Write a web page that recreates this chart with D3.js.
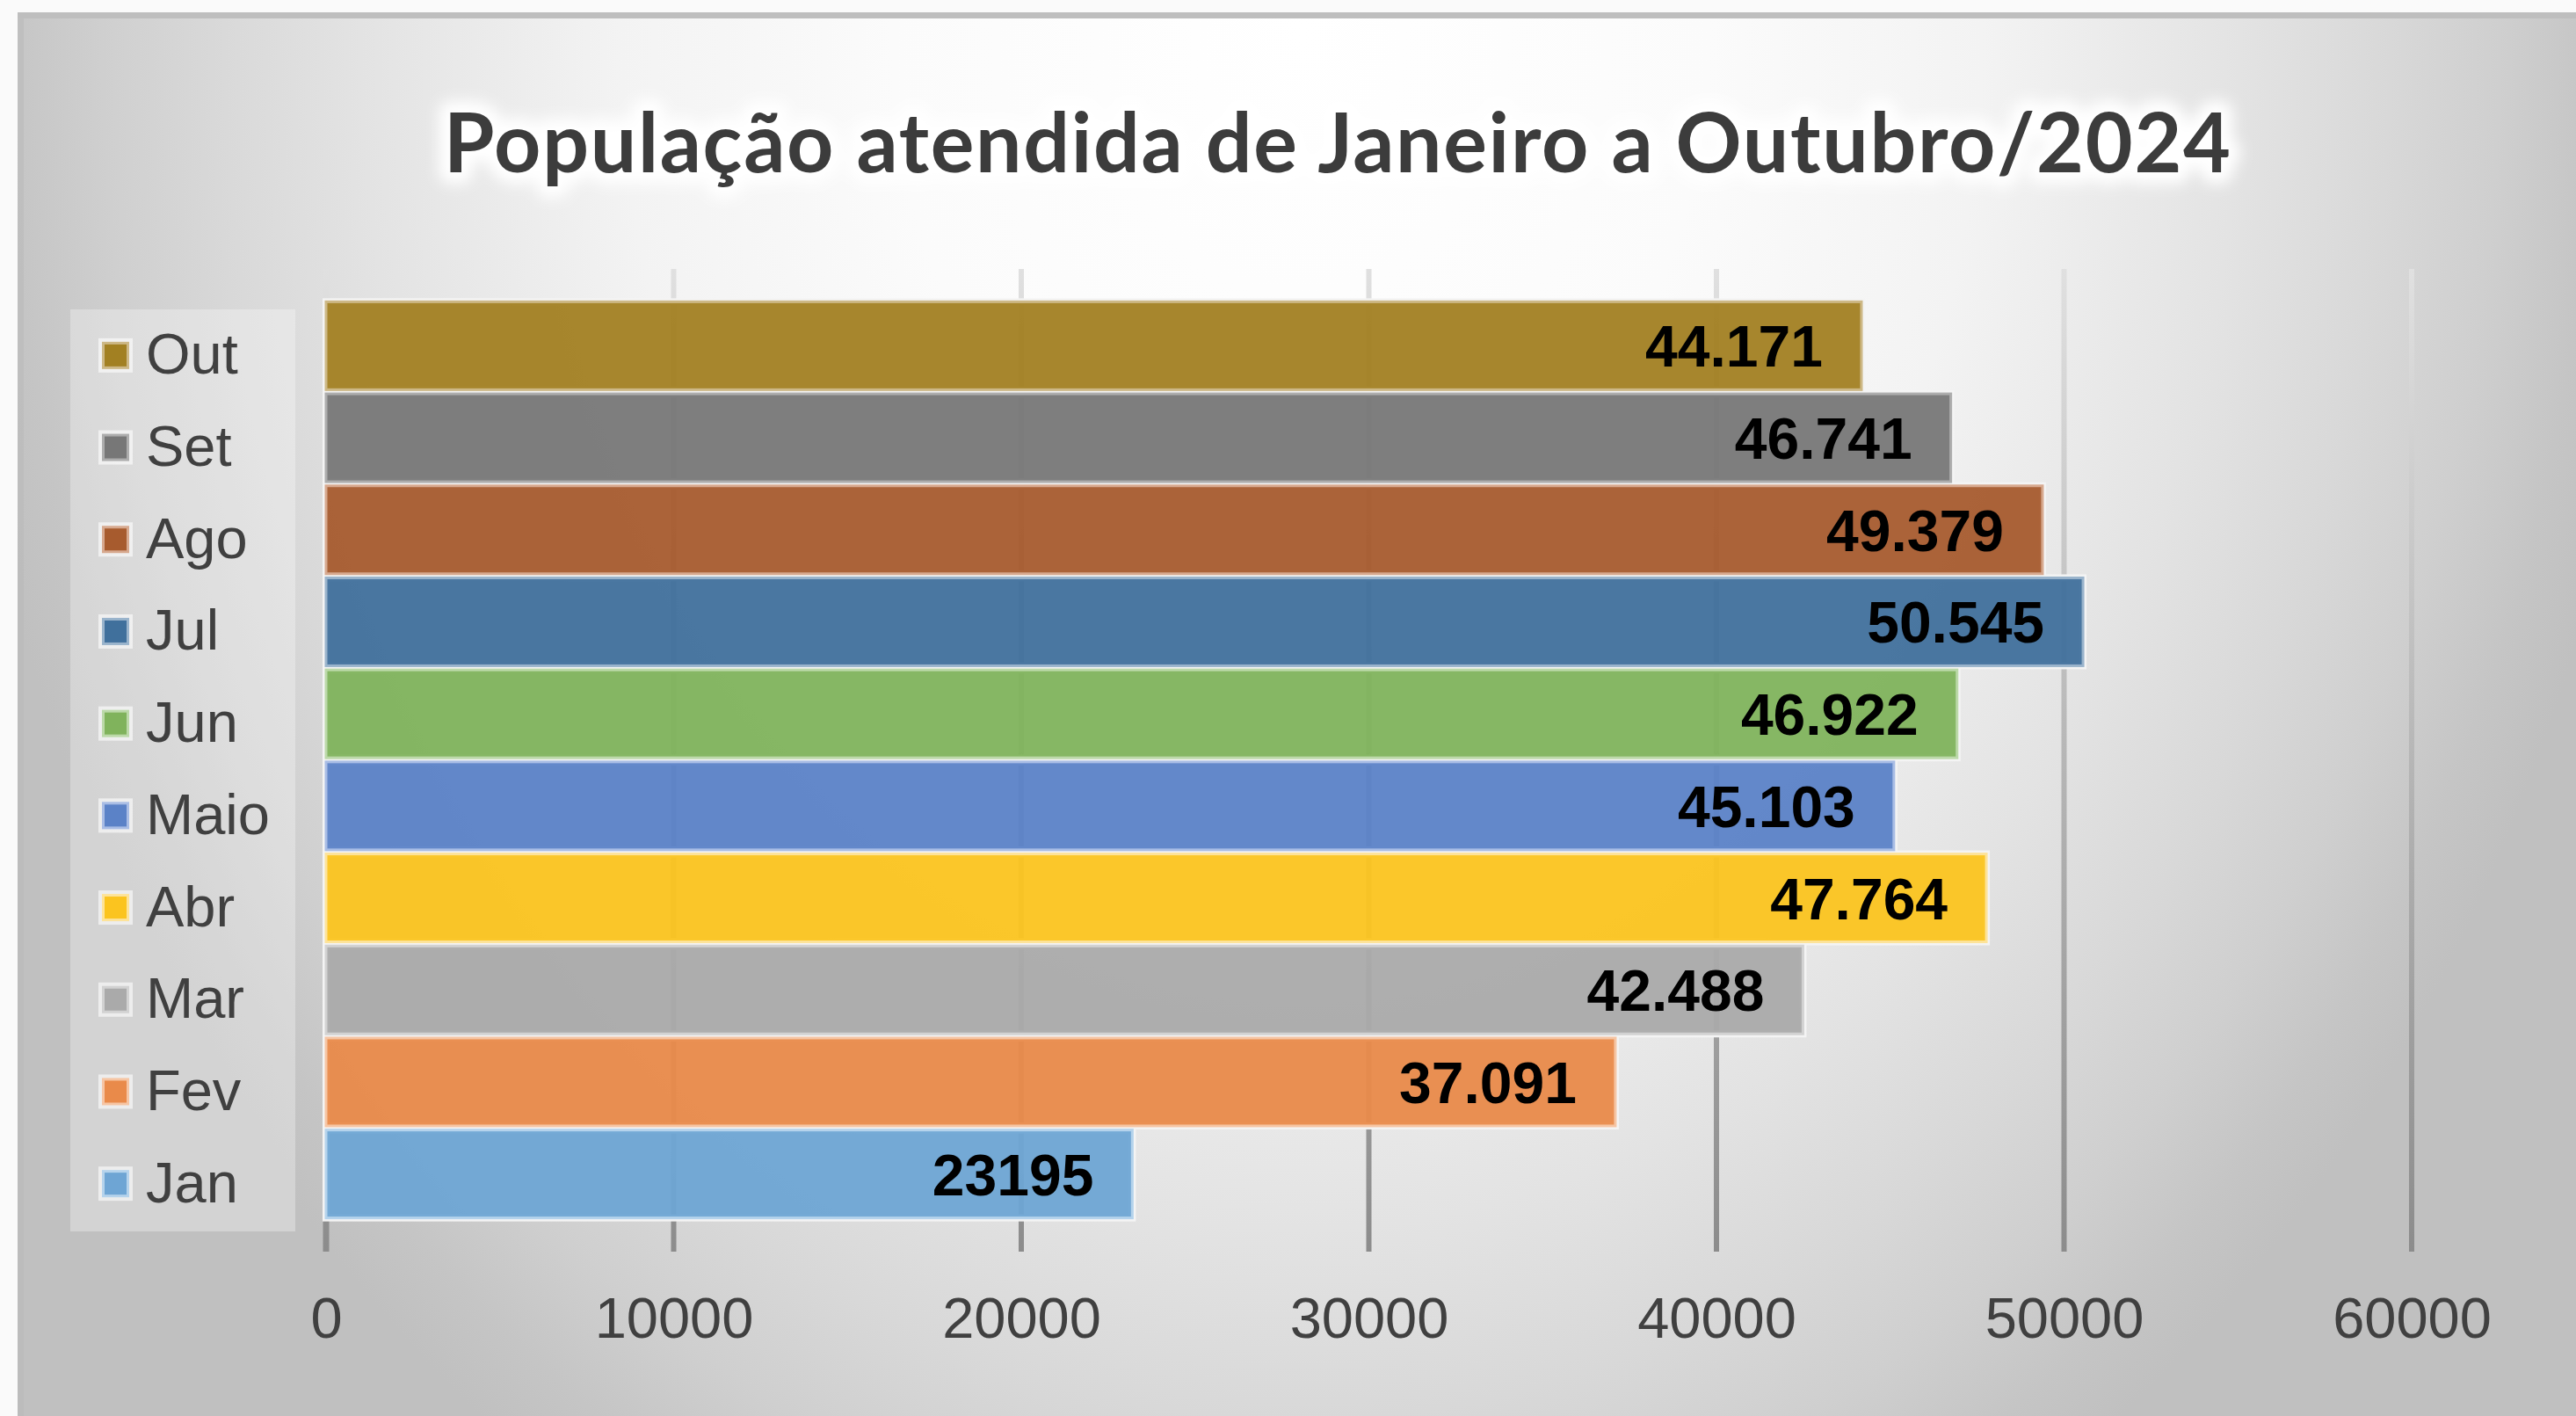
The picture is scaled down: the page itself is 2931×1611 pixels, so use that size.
<!DOCTYPE html>
<html>
<head>
<meta charset="utf-8">
<script src="https://d3js.org/d3.v7.min.js"></script>
<style>
body { margin: 0; background: #fafafa; overflow: hidden; }
svg { display: block; }
.tick text { font-family: "Liberation Sans", Arial, sans-serif; font-size: 65px; fill: #404040; }
</style>
</head>
<body>
<svg width="2931" height="1611"></svg>
<script>
// months, top to bottom as in the chart
const months = ['Out', 'Set', 'Ago', 'Jul', 'Jun', 'Maio', 'Abr', 'Mar', 'Fev', 'Jan'];
const values = [44171, 46741, 49379, 50545, 46922, 45103, 47764, 42488, 37091, 23195];
const valueLabels = ['44.171', '46.741', '49.379', '50.545', '46.922', '45.103', '47.764', '42.488', '37.091', '23195'];
const xTicks = [0, 10000, 20000, 30000, 40000, 50000, 60000];
const fills = ['#a28022', '#777777', '#a75b2e', '#40709c', '#80b35c', '#5b82c7', '#fbc41f', '#aaaaaa', '#e98a4a', '#6ea5d4'];
const tints = ['#cdb886', '#adadad', '#d7a98f', '#9ab4cc', '#bcd9a9', '#a9bde5', '#fde39a', '#d2d2d2', '#f6c5a4', '#b5d3ec'];
const title = 'População atendida de Janeiro a Outubro/2024';

const svg = d3.select('svg');
const defs = svg.append('defs');

// chart background, radial like the Excel preset
const bg = defs.append('radialGradient')
  .attr('id', 'bg')
  .attr('gradientUnits', 'userSpaceOnUse')
  .attr('cx', 1480).attr('cy', 40).attr('r', 1550)
  .attr('gradientTransform', 'translate(1480,40) scale(1,1.27) translate(-1480,-40)');
[[0, '#ffffff'], [0.3, '#fbfbfb'], [0.5, '#f3f3f3'], [0.69, '#e3e3e3'], [0.8, '#d8d8d8'], [0.88, '#cfcfcf'], [0.95, '#c5c5c5'], [1, '#c0c0c0']]
  .forEach(([o, c]) => bg.append('stop').attr('offset', o).attr('stop-color', c));

const grid = defs.append('linearGradient')
  .attr('id', 'grid')
  .attr('gradientUnits', 'userSpaceOnUse')
  .attr('x1', 0).attr('x2', 0).attr('y1', 306).attr('y2', 1424);
grid.append('stop').attr('offset', 0).attr('stop-color', '#e0e0e0');
grid.append('stop').attr('offset', 1).attr('stop-color', '#8c8c8c');

const glow = defs.append('filter').attr('id', 'glow')
  .attr('x', '-10%').attr('y', '-50%').attr('width', '120%').attr('height', '200%');
glow.append('feGaussianBlur').attr('stdDeviation', 8);

svg.append('rect')
  .attr('x', 20).attr('y', 14).attr('width', 2911).attr('height', 1597)
  .attr('fill', 'url(#bg)');
svg.append('rect')
  .attr('x', 20).attr('y', 14).attr('width', 2911).attr('height', 7)
  .attr('fill', '#bebebe');
svg.append('rect')
  .attr('x', 20).attr('y', 21).attr('width', 7).attr('height', 1590)
  .attr('fill', '#b8b8b8').attr('opacity', 0.5);

// title
const titleG = svg.append('g')
  .attr('font-family', 'Lato, "Open Sans", sans-serif')
  .attr('font-weight', 700)
  .attr('font-size', 93);
titleG.append('text')
  .attr('x', 505).attr('y', 196)
  .attr('textLength', 2033).attr('lengthAdjust', 'spacing')
  .attr('fill', 'none').attr('stroke', '#ffffff').attr('stroke-width', 26)
  .attr('stroke-linejoin', 'round')
  .attr('filter', 'url(#glow)')
  .text(title);
titleG.append('text')
  .attr('x', 505).attr('y', 196)
  .attr('textLength', 2033).attr('lengthAdjust', 'spacing')
  .attr('fill', '#3c3c3c')
  .text(title);

// scales
const x = d3.scaleLinear().domain([0, 60000]).range([371, 2744]);
const y = d3.scaleBand().domain(months).range([341, 1388]).paddingInner(0.045).paddingOuter(0.0225);

// gridlines
svg.append('g').selectAll('line')
  .data(xTicks)
  .join('line')
    .attr('x1', d => x(d)).attr('x2', d => x(d))
    .attr('y1', 306).attr('y2', 1424)
    .attr('stroke', 'url(#grid)')
    .attr('stroke-width', d => d === 0 ? 7 : 6);

// x axis labels
const xAxis = svg.append('g')
  .attr('transform', 'translate(0,1424)')
  .call(d3.axisBottom(x).tickValues(xTicks).tickFormat(d3.format('d')).tickSize(0).tickPadding(52));
xAxis.select('.domain').remove();
xAxis.selectAll('.tick text').attr('font-family', null).attr('font-size', null).attr('fill', null);

// bars
const rows = months.map((m, i) => ({ m, v: values[i], label: valueLabels[i], fill: fills[i], tint: tints[i] }));

const bars = svg.append('g');
bars.selectAll('rect.halo')
  .data(rows)
  .join('rect')
    .attr('class', 'halo')
    .attr('x', x(0))
    .attr('y', d => y(d.m))
    .attr('width', d => x(d.v) - x(0))
    .attr('height', y.bandwidth())
    .attr('fill', 'none')
    .attr('stroke', '#f4f4f4')
    .attr('stroke-width', 8);
bars.selectAll('rect.bar')
  .data(rows)
  .join('rect')
    .attr('class', 'bar')
    .attr('x', x(0))
    .attr('y', d => y(d.m))
    .attr('width', d => x(d.v) - x(0))
    .attr('height', y.bandwidth())
    .attr('fill', d => d.fill)
    .attr('fill-opacity', 0.95)
    .attr('stroke', d => d.tint)
    .attr('stroke-width', 3);

bars.selectAll('text')
  .data(rows)
  .join('text')
    .attr('x', d => x(d.v) - 44)
    .attr('y', d => y(d.m) + y.bandwidth() / 2 + 24)
    .attr('text-anchor', 'end')
    .attr('font-family', '"Liberation Sans", Arial, sans-serif')
    .attr('font-weight', 700)
    .attr('font-size', 66)
    .attr('fill', '#000')
    .text(d => d.label);

// legend
const legend = svg.append('g');
legend.append('rect')
  .attr('x', 80).attr('y', 352).attr('width', 256).attr('height', 1049)
  .attr('fill', '#ffffff').attr('fill-opacity', 0.3);

const items = legend.selectAll('g.item')
  .data(rows)
  .join('g')
    .attr('class', 'item')
    .attr('transform', d => `translate(0,${y(d.m) + y.bandwidth() / 2 + 11})`);
items.append('rect')
  .attr('x', 112).attr('y', -19.5).attr('width', 39).attr('height', 39)
  .attr('fill', '#ffffff').attr('fill-opacity', 0.6);
items.append('rect')
  .attr('x', 117.5).attr('y', -14).attr('width', 28).attr('height', 28)
  .attr('fill', d => d.fill)
  .attr('stroke', d => d.tint)
  .attr('stroke-width', 3);
items.append('text')
  .attr('x', 166).attr('y', 21)
  .attr('font-family', '"Liberation Sans", Arial, sans-serif')
  .attr('font-size', 65)
  .attr('fill', '#404040')
  .text(d => d.m);
</script>
</body>
</html>
